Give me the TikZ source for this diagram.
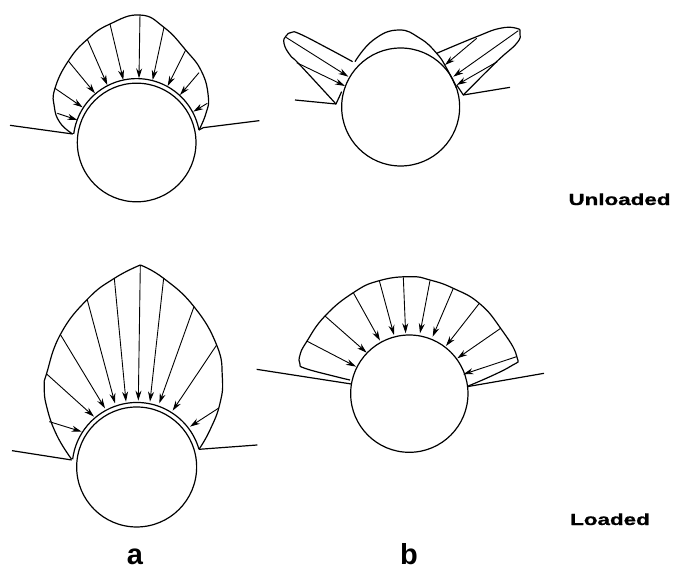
\documentclass[tikz,border=0pt]{standalone}
\usepackage{fontspec}
\setmainfont{Liberation Sans}
\newfontfamily\widefont[FakeStretch=1.4,FakeBold=1]{Liberation Sans}
\usetikzlibrary{arrows.meta}

\begin{document}
\begin{tikzpicture}[x=1pt,y=-1pt,line join=round,
  outline/.style={line width=1.2pt},
  load/.style={line width=.9pt,-{Stealth[length=10pt,width=6pt]}},
  caption/.style={anchor=base,inner sep=0pt,font=\widefont\bfseries\fontsize{16}{16}\selectfont},
  panel/.style={anchor=base,inner sep=0pt,font=\bfseries\fontsize{29}{29}\selectfont}]
  \useasboundingbox (0,0) rectangle (673,571);
  % zoomed coordinates, three units per pixel
  \begin{scope}[shift={(0,0)},x=.3333pt,y=-.3333pt]
    \draw[outline] (410,427.5) circle (178);
    \draw[outline] (597,390) arc (-11:-172.6:190.5);
    \draw[outline] plot[smooth,tension=.8] coordinates {(218,402) (180,368) (163,320) (165,265) (205,183) (262,118) (330,72) (420,45) (492,82) (557,150) (605,215) (625,290) (618,340) (597,390)};
    \draw[outline] (30,376) -- (218,402);
    \draw[outline] (597,390) -- (610,383) -- (778,362);
    \foreach \xa/\ya/\xb/\yb in {172/340/232/360,165/265/248/322,205/183/285/280,262/118/322/255,330/72/370/240,420/45/417/235,492/82/458/240,557/150/503/258,597/218/540/285,622/310/580/335}
      \draw[load] (\xa,\ya) -- (\xb,\yb);
  \end{scope}
  \begin{scope}[shift={(260,10)},x=.3333pt,y=-.3333pt]
    \draw[outline] (422,291) circle (177);
    \draw[outline] plot[smooth,tension=.8] coordinates {(285,155) (340,90) (415,60) (480,85) (530,130) (560,175) (590,235)};
    \draw[outline] plot[smooth,tension=.8] coordinates {(278,155) (200,113) (120,72) (95,67) (78,78) (72,100) (90,135) (120,165) (228,282)};
    \draw[outline] plot[smooth,tension=.8] coordinates {(530,130) (650,80) (720,55) (770,55) (780,70) (770,100) (710,155) (610,255)};
    \draw[outline] (105,270) -- (228,282) -- (245,245);
    \draw[outline] (590,225) -- (610,255) -- (750,232);
    \foreach \xa/\ya/\xb/\yb in {78/82/265/200,110/158/255/228,650/85/555/165,775/62/580/200,712/155/590/225}
      \draw[load] (\xa,\ya) -- (\xb,\yb);
  \end{scope}
  \begin{scope}[shift={(0,250)},x=.3333pt,y=-.3333pt]
    \draw[outline] (410,651) circle (180);
    \draw[outline] (597,598) arc (-16:-173:194);
    \draw[outline] plot[smooth,tension=.8] coordinates {(215,628) (170,555) (140,470) (133,410) (140,370) (182,252) (262,148) (343,85) (421,45)};
    \draw[outline] plot[smooth,tension=.8] coordinates {(421,45) (491,85) (582,170) (650,285) (667,380) (660,460) (630,540) (597,598)};
    \draw[outline] (36,602) -- (215,630);
    \draw[outline] (597,598) -- (772,585);
    \foreach \xa/\ya/\xb/\yb in {148/515/245/545,140/372/282/500,182/255/315/475,262/150/345/460,343/85/378/455,421/45/415/452,491/85/450/455,582/170/478/460,650/285/518/482,655/475/570/530}
      \draw[load] (\xa,\ya) -- (\xb,\yb);
  \end{scope}
  \begin{scope}[shift={(250,270)},x=.3333pt,y=-.3333pt]
    \draw[outline] (478,371) circle (176);
    \draw[outline] plot[smooth,tension=.8] coordinates {(300,330) (250,318) (165,295) (150,282) (150,255) (170,215) (225,138) (310,68) (388,32) (480,20) (540,30) (610,55) (688,100) (752,175) (800,258) (780,290) (655,348)};
    \draw[outline] (20,298) -- (304,342);
    \draw[outline] (652,350) -- (882,310);
    \foreach \xa/\ya/\xb/\yb in {170/213/318/290,225/138/350/248,310/68/390/212,388/32/432/195,460/22/467/190,540/32/510/190,610/55/548/200,688/100/588/228,752/175/622/265,800/260/640/313}
      \draw[load] (\xa,\ya) -- (\xb,\yb);
  \end{scope}
  \node[caption] (unloaded) at (619.5,205) {Unloaded};
  \node[caption] (loaded) at (610,525) {Loaded};
  \node[panel] (a) at (135,564) {a};
  \node[panel] (b) at (409,564) {b};
\end{tikzpicture}
\end{document}
